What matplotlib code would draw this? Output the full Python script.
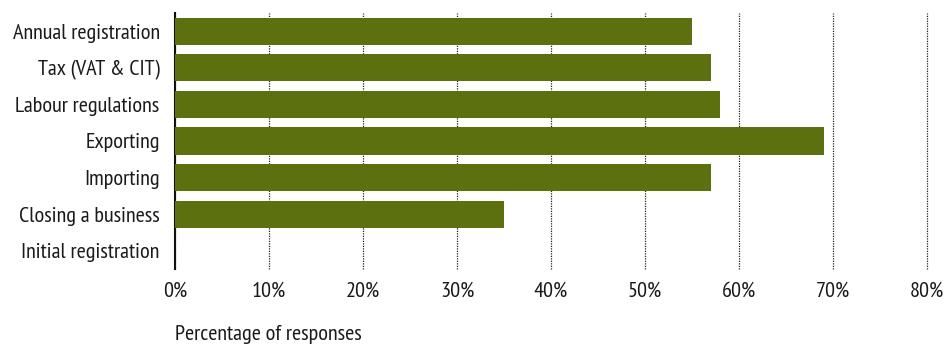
import matplotlib
matplotlib.use("Agg")
import matplotlib.pyplot as plt

categories = ["Annual registration", "Tax (VAT & CIT)", "Labour regulations",
              "Exporting", "Importing", "Closing a business", "Initial registration"]
values = [55, 57, 58, 69, 57, 35, 0]
xticks = [0, 10, 20, 30, 40, 50, 60, 70, 80]
xtick_labels = [f"{t}%" for t in xticks]

plt.rcParams["font.family"] = ["PT Sans Narrow", "DejaVu Sans"]
FS = 16

W, H = 950, 344
fig = plt.figure(figsize=(W / 100, H / 100), dpi=100)
ax = fig.add_axes([175 / W, 1 - 269 / H, (927 - 175) / W, (269 - 13) / H])

y = list(range(len(categories)))
ax.barh(y, values, height=0.74, color="#5C7010", zorder=3)
ax.set_ylim(len(categories) - 0.5, -0.5)
ax.set_xlim(0, 80)
ax.set_yticks(y)
ax.set_yticklabels(categories, fontsize=FS, color="#1a1a1a")
ax.set_xticks(xticks)
ax.set_xticklabels(xtick_labels, fontsize=FS, color="#1a1a1a")
ax.tick_params(axis="both", length=0)
ax.tick_params(axis="y", pad=11)
ax.tick_params(axis="x", pad=9)

for s in ["top", "right", "bottom"]:
    ax.spines[s].set_visible(False)
ax.spines["left"].set_linewidth(1.5)
ax.spines["left"].set_color("#111111")

ax.xaxis.grid(True, linestyle=(0, (1, 1)), color="#222222", linewidth=0.9, zorder=0)
for gl in ax.get_xgridlines():
    gl.set_clip_on(False)
ax.yaxis.grid(False)
ax.set_axisbelow(True)

fig.text(175 / W, 1 - 334 / H, "Percentage of responses", fontsize=FS,
         color="#1a1a1a", ha="left", va="center")

fig.savefig("out.png", dpi=100)
